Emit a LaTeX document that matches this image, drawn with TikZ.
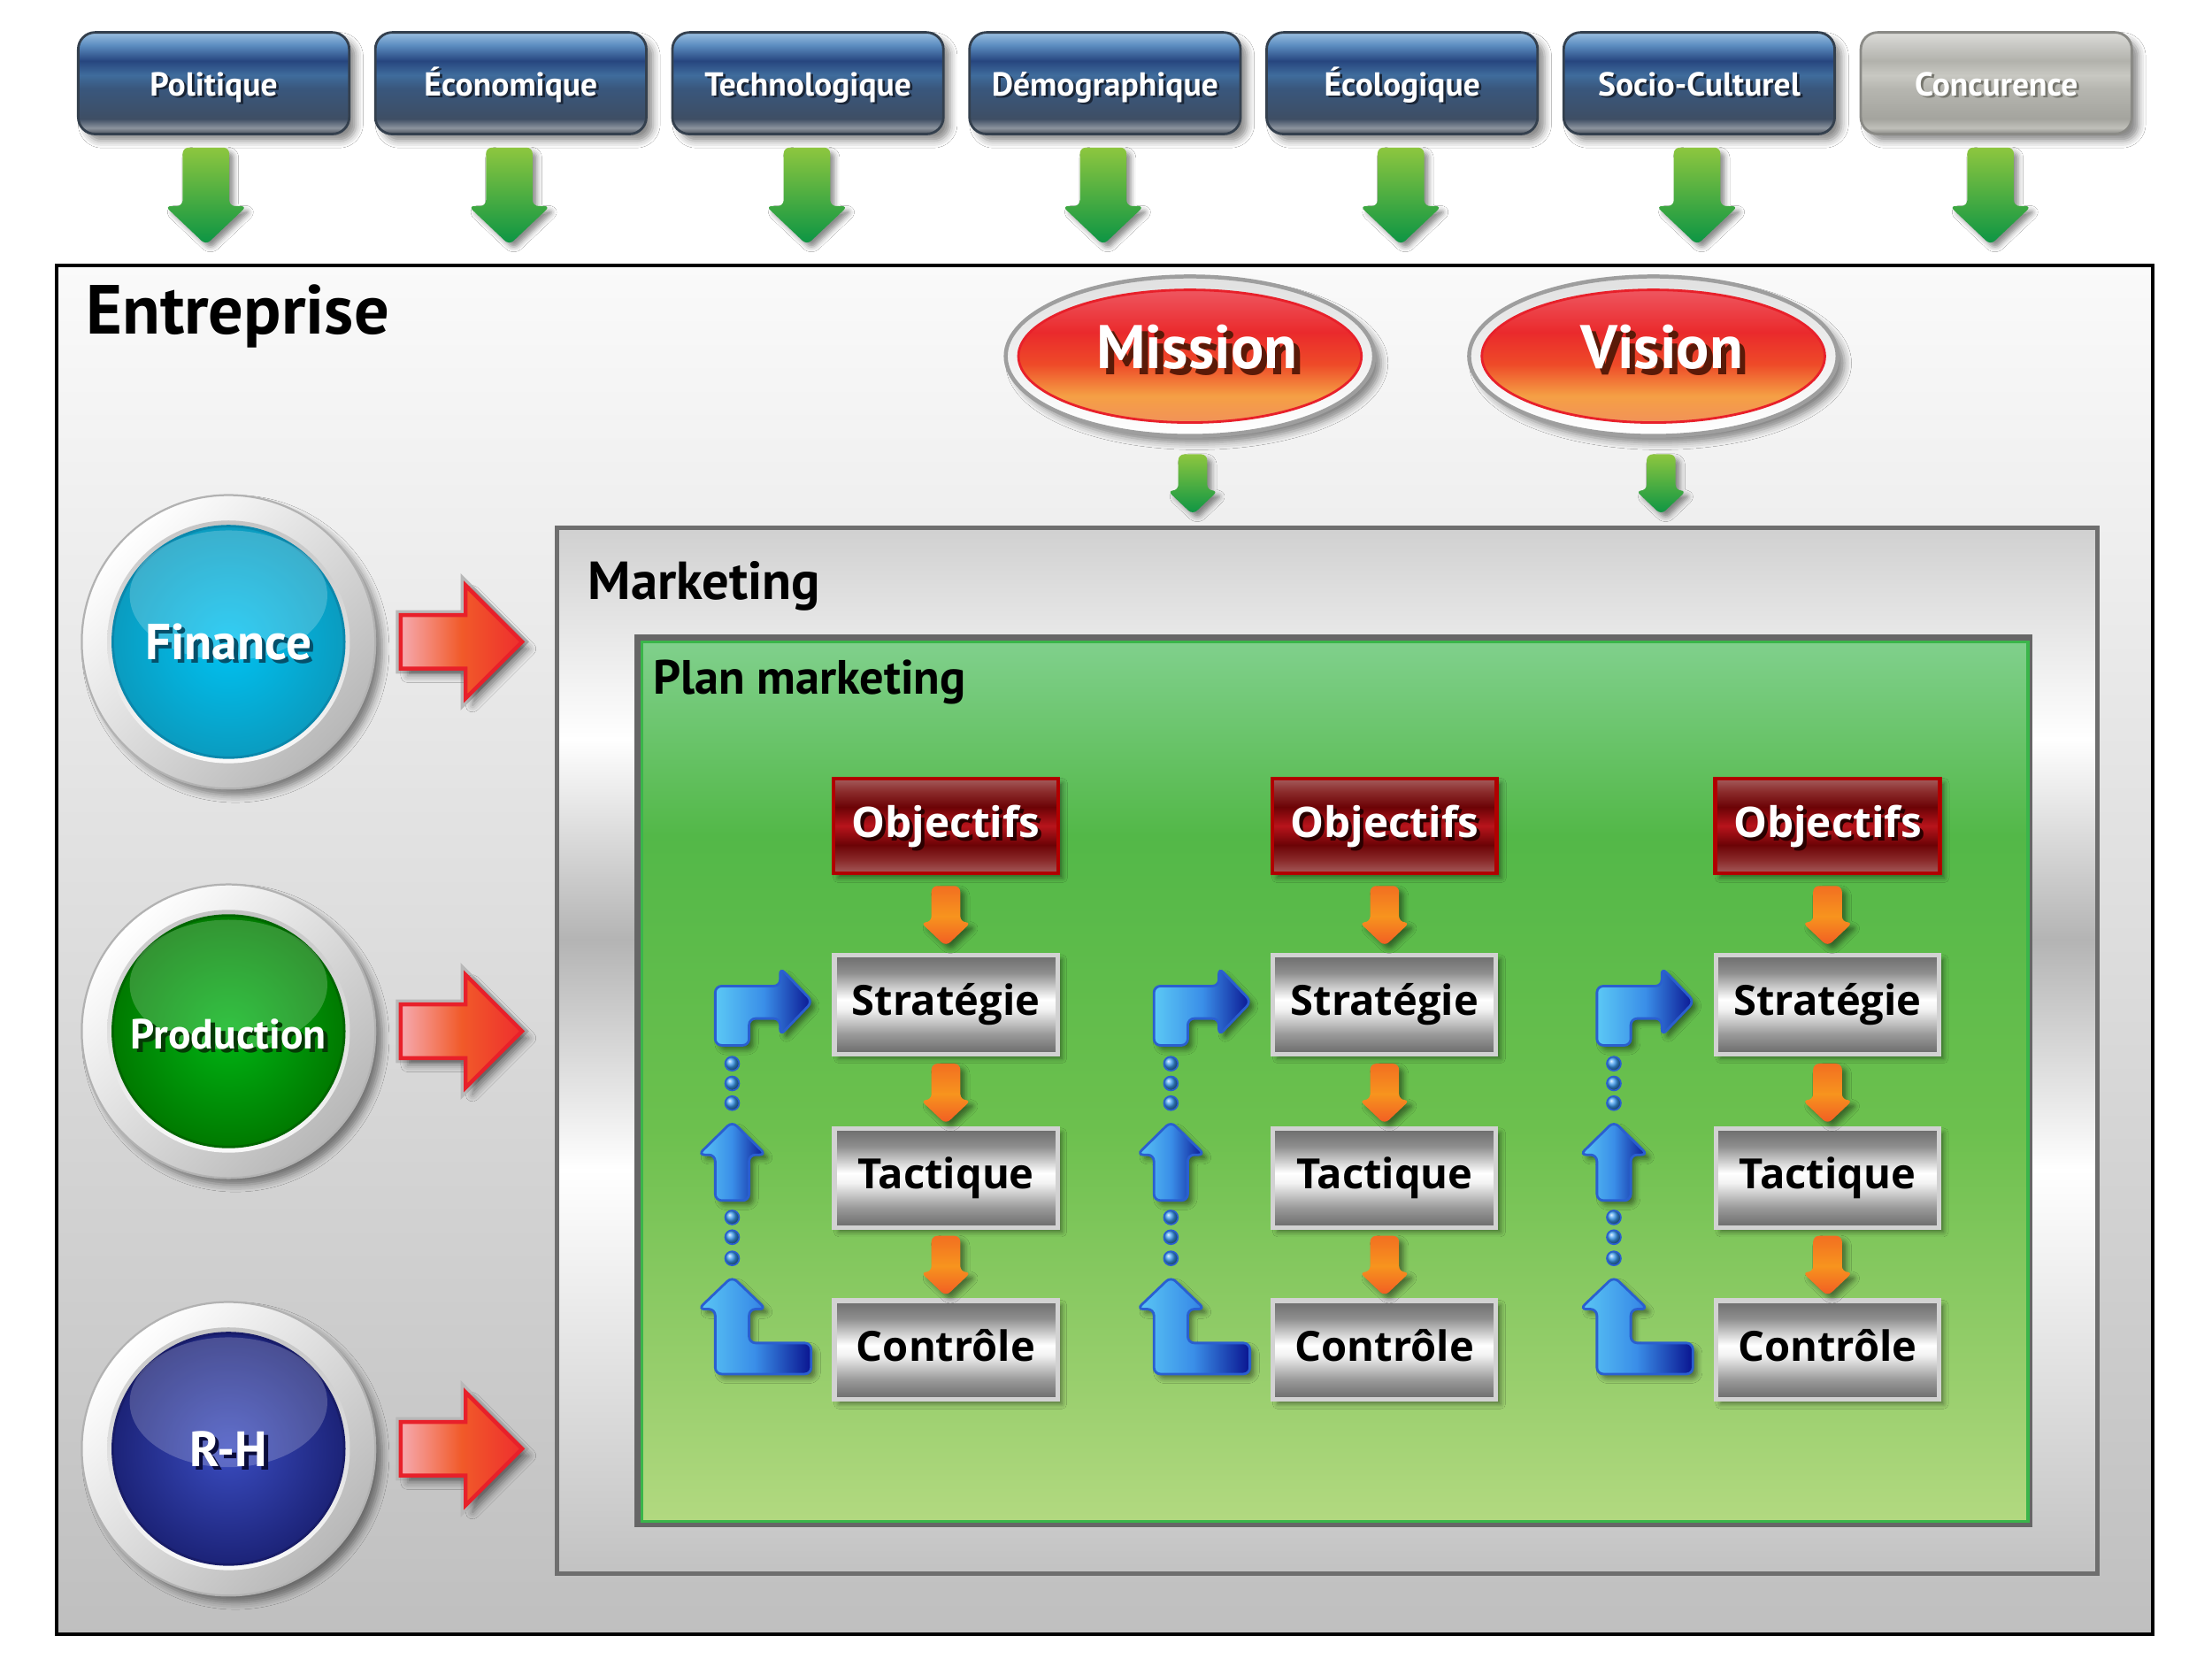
\documentclass[tikz,border=0pt]{standalone}
\usepackage{fontspec}
\setmainfont{PT Sans}
\newfontfamily\segoe{Open Sans}
\usetikzlibrary{shadows.blur,calc,shapes.geometric}

\definecolor{bbA}{HTML}{9CC0E0}
\definecolor{bbB}{HTML}{5E8FC2}
\definecolor{bbC}{HTML}{27467F}
\definecolor{bbD}{HTML}{3F6C9C}
\definecolor{bbE}{HTML}{39577D}
\definecolor{bbF}{HTML}{3E4E64}
\definecolor{bbG}{HTML}{8C949E}
\definecolor{bbH}{HTML}{4A505A}
\definecolor{bbBorder}{HTML}{34404E}
\definecolor{tbShadow}{HTML}{1A2536}
\definecolor{ggA}{HTML}{DCDCD8}
\definecolor{ggB}{HTML}{C6C6C2}
\definecolor{ggC}{HTML}{B2B2AC}
\definecolor{ggD}{HTML}{C8C8C2}
\definecolor{ggE}{HTML}{B6B6B0}
\definecolor{ggF}{HTML}{A4A49E}
\definecolor{ggG}{HTML}{C0C0BA}
\definecolor{ggH}{HTML}{8A8A86}
\definecolor{ggShadow}{HTML}{77776F}
\definecolor{mtA}{HTML}{6C6C6C}
\definecolor{mtB}{HTML}{8E8E8E}
\definecolor{mtC}{HTML}{FFFFFF}
\definecolor{mtD}{HTML}{F2F2F2}
\definecolor{mtE}{HTML}{9A9A9A}
\definecolor{mtF}{HTML}{6A6A6A}
\definecolor{mtBorder}{HTML}{D2D2D2}
\definecolor{obA}{HTML}{A45C5C}
\definecolor{obB}{HTML}{8A2A2A}
\definecolor{obC}{HTML}{6C0306}
\definecolor{obD}{HTML}{B8141C}
\definecolor{obBorder}{HTML}{B00000}
\definecolor{obShadow}{HTML}{2A0000}
\definecolor{plA}{HTML}{80D08C}
\definecolor{plB}{HTML}{53B848}
\definecolor{plC}{HTML}{6CC04E}
\definecolor{plD}{HTML}{9ACF6E}
\definecolor{plE}{HTML}{B2D980}
\definecolor{plBorder}{HTML}{3AB54A}
\definecolor{plFrame}{HTML}{666666}
\definecolor{mkA}{HTML}{D0D0D0}
\definecolor{mkB}{HTML}{FFFFFF}
\definecolor{mkC}{HTML}{B4B4B4}
\definecolor{mkD}{HTML}{C2C2C2}
\definecolor{mkBorder}{HTML}{6E6E6E}
\definecolor{reA}{HTML}{F06470}
\definecolor{reB}{HTML}{EA2A2C}
\definecolor{reC}{HTML}{EE4A28}
\definecolor{reD}{HTML}{F5A045}
\definecolor{reE}{HTML}{F08A62}
\definecolor{reBorder}{HTML}{E8202A}
\definecolor{reShadow}{HTML}{5A1A08}
\definecolor{gaA}{HTML}{8DC63F}
\definecolor{gaB}{HTML}{0A9444}
\definecolor{orA}{HTML}{F26F21}
\definecolor{orB}{HTML}{F7941E}
\definecolor{orC}{HTML}{F15A24}
\definecolor{raA}{HTML}{F6AAB0}
\definecolor{raB}{HTML}{F15A29}
\definecolor{raC}{HTML}{EE2E2E}
\definecolor{raBorder}{HTML}{E8202A}
\definecolor{buA}{HTML}{5BC8F5}
\definecolor{buB}{HTML}{3A8EE8}
\definecolor{buC}{HTML}{0A1490}
\definecolor{buBorder}{HTML}{2A5FD0}
\definecolor{buDot}{HTML}{3A9AF0}
\definecolor{fiA}{HTML}{00C2F2}
\definecolor{fiB}{HTML}{0A9CC0}
\definecolor{fiC}{HTML}{0A88AC}
\definecolor{fiS}{HTML}{05506A}
\definecolor{prA}{HTML}{00B414}
\definecolor{prB}{HTML}{007A00}
\definecolor{prC}{HTML}{006600}
\definecolor{prS}{HTML}{053A05}
\definecolor{rhA}{HTML}{3A4CC0}
\definecolor{rhB}{HTML}{1C2378}
\definecolor{rhC}{HTML}{181C68}
\definecolor{rhS}{HTML}{0A0C3A}

\pgfdeclareverticalshading{bluebtn}{100bp}{color(0bp)=(bbH); color(25bp)=(bbH); color(28bp)=(bbG); color(32.5bp)=(bbF); color(47.5bp)=(bbE); color(54bp)=(bbD); color(61bp)=(bbC); color(69bp)=(bbB); color(75bp)=(bbA); color(100bp)=(bbA)}
\pgfdeclareverticalshading{graybtn}{100bp}{color(0bp)=(ggH); color(25bp)=(ggH); color(28bp)=(ggG); color(32.5bp)=(ggF); color(47.5bp)=(ggE); color(54bp)=(ggD); color(61bp)=(ggC); color(68bp)=(ggB); color(75bp)=(ggA); color(100bp)=(ggA)}
\pgfdeclareverticalshading{metal}{100bp}{color(0bp)=(mtF); color(25bp)=(mtF); color(35bp)=(mtE); color(47.5bp)=(mtD); color(52.5bp)=(mtC); color(66bp)=(mtB); color(75bp)=(mtA); color(100bp)=(mtA)}
\pgfdeclareverticalshading{objsh}{100bp}{color(0bp)=(obA); color(25bp)=(obA); color(32bp)=(obB); color(40bp)=(obC); color(50bp)=(obD); color(60bp)=(obC); color(68bp)=(obB); color(75bp)=(obA); color(100bp)=(obA)}
\pgfdeclareverticalshading{plansh}{100bp}{color(0bp)=(plE); color(25bp)=(plE); color(32.5bp)=(plD); color(47.5bp)=(plC); color(64bp)=(plB); color(75bp)=(plA); color(100bp)=(plA)}
\pgfdeclareverticalshading{mktsh}{100bp}{color(0bp)=(mkD); color(25bp)=(mkD); color(44.3bp)=(mkB); color(55.3bp)=(mkC); color(64.9bp)=(mkB); color(75bp)=(mkA); color(100bp)=(mkA)}
\pgfdeclareverticalshading{redell}{100bp}{color(0bp)=(reE); color(25bp)=(reE); color(37.5bp)=(reD); color(47.5bp)=(reC); color(57.5bp)=(reB); color(75bp)=(reA); color(100bp)=(reA)}

\newcommand{\shtext}[3]{\makebox[0pt][l]{\hspace*{#3}\raisebox{-#3}{\textcolor{#2}{#1}}}#1}

\tikzset{
  pics/darrow/.style={code={
    \path[#1, rounded corners=1.2pt] (-16.5,0) -- (16.5,0) -- (16.5,41.5) -- (29,41.5) -- (0,69) -- (-29,41.5) -- (-16.5,41.5) -- cycle;
  }},
  pics/rarrow/.style={code={
    \path[rarrowsty] (0,-19) -- (46,-19) -- (46,-40) -- (86,0) -- (46,40) -- (46,19) -- (0,19) -- cycle;
  }},
}

\begin{document}
\begin{tikzpicture}[x=0.01cm,y=-0.01cm,
  every node/.style={outer sep=0pt},
  bsh/.style={blur shadow={shadow xshift=1.4pt,shadow yshift=-1.4pt,shadow blur radius=1.4pt,shadow opacity=45}},
  bshs/.style={blur shadow={shadow xshift=0.9pt,shadow yshift=-0.9pt,shadow blur radius=1pt,shadow opacity=45}},
  btnbase/.style={rectangle, rounded corners=3.4pt, minimum width=1.92cm, minimum height=0.72cm, inner sep=0pt, line width=0.5pt, bsh, text=white, font=\bfseries\fontsize{6.7}{7.5}\selectfont, text height=0.7em, text depth=0.2em},
  bluebox/.style={btnbase, shade, shading=bluebtn, draw=bbBorder},
  graybox/.style={btnbase, shade, shading=graybtn, draw=ggH},
  entbox/.style={rectangle, anchor=north west, draw=black, line width=0.75pt, top color=white!98!black, bottom color=black!25, minimum width=14.85cm, minimum height=9.70cm, inner sep=0pt},
  mktbox/.style={rectangle, anchor=north west, shade, shading=mktsh, draw=mkBorder, line width=0.9pt, minimum width=10.91cm, minimum height=7.41cm, inner sep=0pt},
  framebox/.style={rectangle, anchor=north west, fill=plFrame, minimum width=9.90cm, minimum height=6.32cm, inner sep=0pt},
  planbox/.style={rectangle, anchor=north west, shade, shading=plansh, draw=plBorder, line width=0.6pt, minimum width=9.82cm, minimum height=6.23cm, inner sep=0pt},
  title/.style={anchor=base west, inner sep=0pt, text=black},
  ring/.style n args={3}{circle, minimum size=2.08cm, inner sep=0pt, top color=white, bottom color=black!28, shading angle=45, draw=black!30, line width=0.4pt, bsh, text=white, text height=0.7em, text depth=0pt,
    path picture={
      \shade[top color=black!25, bottom color=white] (path picture bounding box.center) circle (0.86cm);
      \shade[inner color=#1, outer color=#2, draw=#3, line width=0.5pt] (path picture bounding box.center) circle (0.82cm);
      \fill[white, opacity=0.2] ($(path picture bounding box.center)+(0,-33)$) ellipse [x radius=0.70cm, y radius=0.46cm];
    }},
  ellring/.style={ellipse, minimum width=2.61cm, minimum height=1.13cm, inner sep=0pt, top color=black!12, bottom color=white, draw=black!38, line width=0.8pt, bsh,
    path picture={\shade[shading=redell, draw=reBorder, line width=0.5pt] (path picture bounding box.center) ellipse [x radius=1.215cm, y radius=0.47cm];}},
  elltext/.style={text=white, font=\bfseries\fontsize{12.4}{14}\selectfont, inner sep=0pt, text height=0.7em, text depth=0pt},
  objbox/.style={rectangle, minimum width=1.59cm, minimum height=0.67cm, inner sep=0pt, shade, shading=objsh, draw=obBorder, line width=0.8pt, bshs, text=white, font=\segoe\bfseries\fontsize{8.5}{10}\selectfont, text height=0.72em, text depth=0.25em},
  metbox/.style={rectangle, minimum width=1.58cm, minimum height=0.70cm, inner sep=0pt, shade, shading=metal, draw=mtBorder, line width=0.9pt, bshs, text=black, font=\segoe\bfseries\fontsize{8.4}{10}\selectfont, text height=0.72em, text depth=0.27em},
  garrow/.style={top color=gaA, bottom color=gaB, bshs},
  oarrow/.style={top color=orA, bottom color=orC, middle color=orB, bshs},
  rarrowsty/.style={left color=raA, right color=raC, middle color=raB, preaction={draw=black!28, line width=2pt}, draw=raBorder, line width=0.8pt, bsh},
  barrow/.style={left color=buA, right color=buC, middle color=buB, draw=buBorder, line width=0.5pt, rounded corners=1.3pt, bshs},
  bdot/.style={ball color=buDot, draw=buBorder, line width=0.3pt},
]
\useasboundingbox (0,0) rectangle (1568,1176);
\fill[white] (0,0) rectangle (1568,1176);

% top factor boxes
\foreach \i/\nm/\lab in {0/pol/Politique, 1/eco/Économique, 2/tec/Technologique, 3/dem/Démographique, 4/eco2/Écologique, 5/soc/Socio-Culturel}{
  \node[bluebox] (\nm) at ({151.5+210.6*\i},59) {\shtext{\lab}{tbShadow}{0.5pt}};
}
\node[graybox] (conc) at ({151.5+210.6*6},59) {\shtext{Concurence}{ggShadow}{0.5pt}};

\foreach \ax in {146,361,572,782,993,1203,1411}{
  \pic at (\ax,104.6) {darrow=garrow};
}

% Entreprise
\node[entbox] (ent) at (40,188) {};
\node[title, font=\bfseries\fontsize{14}{16}\selectfont] (enttitle) at (61,237) {Entreprise};

% Mission / Vision
\node[ellring] (mis) at (843.5,252.5) {};
\node[elltext] (mistxt) at ($(mis.center)+(5,-3.5)$) {\shtext{Mission}{reShadow}{1.2pt}};
\node[ellring] (vis) at (1172,252.5) {};
\node[elltext] (vistxt) at ($(vis.center)+(6,-3.5)$) {\shtext{Vision}{reShadow}{1.2pt}};
\pic[scale=0.62] at ($(mis.south)+(2,13)$) {darrow=garrow};
\pic[scale=0.62] at ($(vis.south)+(5.5,13)$) {darrow=garrow};

% Marketing
\node[mktbox] (mkt) at (395,374) {};
\node[title, font=\bfseries\fontsize{10.8}{12}\selectfont] (mkttitle) at (417,425) {Marketing};
\node[framebox] (frame) at (450,450) {};
\node[planbox] (plan) at (455,455) {};
\node[title, font=\bfseries\fontsize{9.7}{11}\selectfont] (plantitle) at (463,492) {Plan marketing};

% functions
\node[ring={fiA}{fiB}{fiC}, font=\bfseries\fontsize{10.2}{12}\selectfont] (fin) at (162,455) {\shtext{Finance}{fiS}{0.8pt}};
\node[ring={prA}{prB}{prC}, font=\bfseries\fontsize{8.5}{10}\selectfont] (prod) at (162,731) {\shtext{Production}{prS}{0.8pt}};
\node[ring={rhA}{rhB}{rhC}, font=\bfseries\fontsize{10}{12}\selectfont] (rh) at (162,1027) {\shtext{R-H}{rhS}{0.8pt}};
\pic at ($(fin.east)+(18,0)$) {rarrow};
\pic at ($(prod.east)+(18,0)$) {rarrow};
\pic at ($(rh.east)+(18,0)$) {rarrow};

% columns
\foreach \i/\dx in {1/0,2/311,3/625}{
  \node[objbox] (obj\i) at (670.5+\dx,585.5) {\shtext{Objectifs}{obShadow}{0.7pt}};
  \node[metbox] (str\i) at (670.5+\dx,712) {Stratégie};
  \node[metbox] (tac\i) at (670.5+\dx,835) {Tactique};
  \node[metbox] (con\i) at (670.5+\dx,957) {Contrôle};
  \pic[scale=0.62] at ($(obj\i.south)+(0,9)$) {darrow=oarrow};
  \pic[scale=0.62] at ($(str\i.south)+(0,7)$) {darrow=oarrow};
  \pic[scale=0.62] at ($(tac\i.south)+(0,6)$) {darrow=oarrow};
  \begin{scope}[shift={(\dx,0)}]
    \path[barrow] (519,699) -- (553,699) -- (553,686) -- (576,710) -- (553,734) -- (553,722) -- (531,722) -- (531,741) -- (507,741) -- (507,699) -- cycle;
    \path[barrow] (507,851) -- (507,818.6) -- (495,818.6) -- (519,795) -- (543,818.6) -- (531,818.6) -- (531,851) -- cycle;
    \path[barrow] (519,905) -- (543,928) -- (531,928) -- (531,952) -- (575,952) -- (575,974) -- (507,974) -- (507,928) -- (495,928) -- cycle;
    \foreach \yy in {754,768,782,863,877,892}{
      \path[bdot] (519,\yy) circle (0.05cm);
    }
  \end{scope}
}
\end{tikzpicture}
\end{document}
